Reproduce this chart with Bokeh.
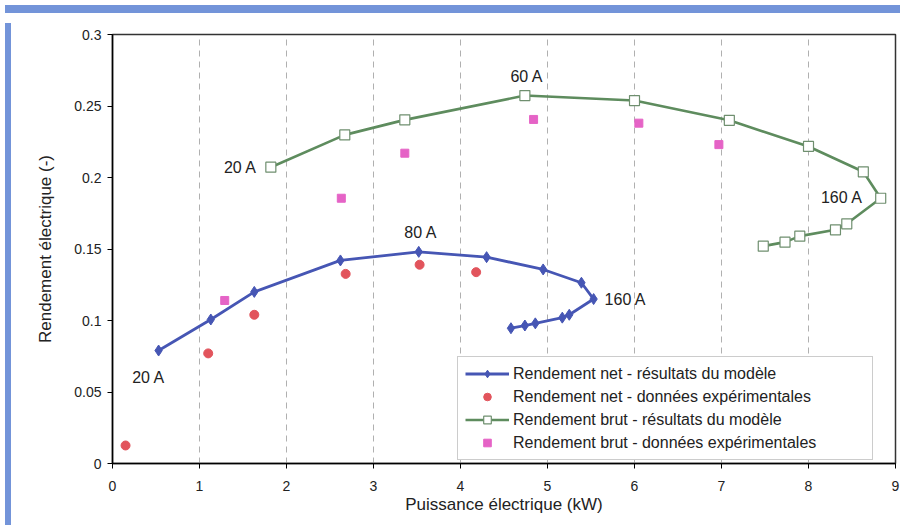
from bokeh.plotting import figure
from bokeh.models import Range1d, FixedTicker, Legend, LegendItem, Div
from bokeh.layouts import column, row
from bokeh.core.properties import value
from bokeh.embed import file_html
from bokeh.resources import INLINE

# Data
net_model_x = [0.53, 1.13, 1.63, 2.62, 3.52, 4.30, 4.95, 5.39, 5.53, 5.25, 5.17, 4.86, 4.74, 4.58]
net_model_y = [0.079, 0.1007, 0.120, 0.142, 0.148, 0.1443, 0.1357, 0.1264, 0.115, 0.104, 0.102, 0.098, 0.0965, 0.0946]
net_exp_x = [0.15, 1.10, 1.63, 2.68, 3.53, 4.18]
net_exp_y = [0.0126, 0.077, 0.104, 0.1326, 0.139, 0.1338]
brut_model_x = [1.82, 2.67, 3.36, 4.74, 6.00, 7.09, 8.00, 8.63, 8.83, 8.44, 8.31, 7.90, 7.73, 7.48]
brut_model_y = [0.2072, 0.2298, 0.2403, 0.2573, 0.2538, 0.240, 0.2217, 0.204, 0.1855, 0.1676, 0.1634, 0.159, 0.1548, 0.152]
brut_exp_x = [1.29, 2.63, 3.36, 4.84, 6.05, 6.97]
brut_exp_y = [0.114, 0.1855, 0.217, 0.2406, 0.238, 0.223]

x_ticks = [0, 1, 2, 3, 4, 5, 6, 7, 8, 9]
y_ticks = [0, 0.05, 0.1, 0.15, 0.2, 0.25, 0.3]
y_tick_labels = ["0", "0.05", "0.1", "0.15", "0.2", "0.25", "0.3"]

series_labels = [
    "Rendement net - résultats du modèle",
    "Rendement net - données expérimentales",
    "Rendement brut - résultats du modèle",
    "Rendement brut - données expérimentales",
]

# current annotations: (text, series, point index)
annotations = [
    ("20 A", "brut", 0),
    ("60 A", "brut", 3),
    ("160 A", "brut", 8),
    ("80 A", "net", 4),
    ("160 A", "net", 8),
    ("20 A", "net", 0),
]
ann_style = [
    dict(text_align="right", x_offset=-14, y_offset=0),
    dict(text_align="center", x_offset=2, y_offset=-19),
    dict(text_align="right", x_offset=-18, y_offset=-1),
    dict(text_align="center", x_offset=2, y_offset=-19),
    dict(text_align="left", x_offset=11, y_offset=0),
    dict(text_align="center", x_offset=-10, y_offset=27),
]

FONT = "Liberation Sans"
BLUE = "#4656b4"
RED = "#e2545c"
GREEN = "#5e8c5e"
PINK = "#e563c6"

p = figure(width=889, height=502, output_backend="svg", toolbar_location=None,
           x_range=Range1d(0, 9), y_range=Range1d(0, 0.3),
           min_border_left=96, min_border_right=10, min_border_top=16, min_border_bottom=57)
p.background_fill_color = "white"
p.border_fill_color = "white"
p.outline_line_color = "#333333"
p.outline_line_width = 1.5

p.xaxis.ticker = FixedTicker(ticks=x_ticks)
p.yaxis.ticker = FixedTicker(ticks=y_ticks)
p.yaxis.major_label_overrides = {t: l for t, l in zip(y_ticks, y_tick_labels)}
for ax in (p.xaxis, p.yaxis):
    ax.axis_line_color = "black"
    ax.axis_line_width = 1.5
    ax.major_tick_line_color = "black"
    ax.major_tick_out = 5
    ax.major_tick_in = 0
    ax.minor_tick_line_color = None
    ax.major_label_text_font = FONT
    ax.major_label_text_font_size = "14px"
    ax.major_label_text_color = "#222222"
    ax.axis_label_text_font = FONT
    ax.axis_label_text_font_size = "17px"
    ax.axis_label_text_font_style = "normal"
    ax.axis_label_text_color = "#222222"
p.xaxis.axis_label = "Puissance électrique (kW)"
p.yaxis.axis_label = "Rendement électrique (-)"
p.xaxis.major_label_standoff = 12
p.xaxis.axis_label_standoff = 1
p.yaxis.major_label_standoff = 6
p.yaxis.axis_label_standoff = 16

p.xgrid.grid_line_color = "#b0b0b0"
p.xgrid.grid_line_dash = "6 5"
p.ygrid.grid_line_color = None

r_net_line = p.line(net_model_x, net_model_y, line_color=BLUE, line_width=2.8)
r_net_pts = p.scatter(net_model_x, net_model_y, marker="diamond", size=11,
                      fill_color=BLUE, line_color=BLUE)
r_net_exp = p.scatter(net_exp_x, net_exp_y, marker="circle", size=9,
                      fill_color=RED, line_color=RED)
r_brut_line = p.line(brut_model_x, brut_model_y, line_color=GREEN, line_width=2.6)
r_brut_pts = p.scatter(brut_model_x, brut_model_y, marker="square", size=10,
                       fill_color="white", line_color="#6f8f6f", line_width=1.2)
r_brut_exp = p.scatter(brut_exp_x, brut_exp_y, marker="square", size=8,
                       fill_color=PINK, line_color=PINK)

series_xy = {"net": (net_model_x, net_model_y), "brut": (brut_model_x, brut_model_y)}
for (txt, s, i), st in zip(annotations, ann_style):
    xs, ys = series_xy[s]
    p.text(x=[xs[i]], y=[ys[i]], text=[txt], text_font=value(FONT), text_font_size="16px",
           text_color="#222222", text_baseline="middle", **st)

legend = Legend(items=[
    LegendItem(label=series_labels[0], renderers=[r_net_line, r_net_pts]),
    LegendItem(label=series_labels[1], renderers=[r_net_exp]),
    LegendItem(label=series_labels[2], renderers=[r_brut_line, r_brut_pts]),
    LegendItem(label=series_labels[3], renderers=[r_brut_exp]),
], location=(345, 3))
legend.label_text_font = FONT
legend.label_text_font_size = "16px"
legend.label_text_color = "#222222"
legend.glyph_width = 44
legend.glyph_height = 19
legend.label_height = 19
legend.label_width = 352
legend.label_standoff = 4
legend.spacing = 4
legend.padding = 7
legend.margin = 0
legend.border_line_color = "#999999"
legend.background_fill_alpha = 1
p.add_layout(legend)

top_bar = Div(width=895, height=8, styles={"background-color": "#7394d9"})
left_bar = Div(width=6, height=502, styles={"background-color": "#7394d9"})
layout = column(top_bar, row(left_bar, p, spacing=0), spacing=0)

open("out.html", "w").write(file_html(layout, INLINE))
